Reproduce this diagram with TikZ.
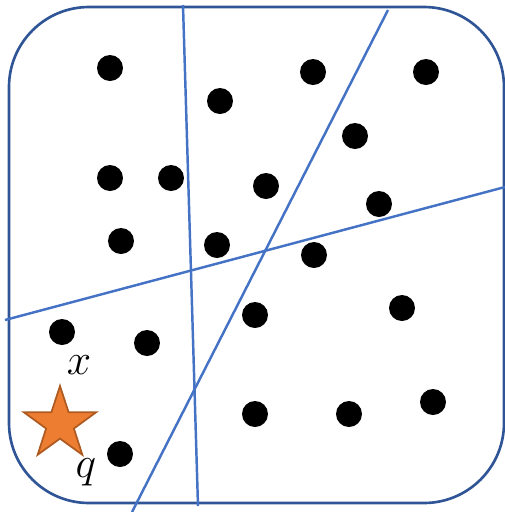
\documentclass[tikz,border=0pt]{standalone}
\usetikzlibrary{calc}
\definecolor{frameblue}{HTML}{2F5597}
\definecolor{lineblue}{HTML}{4472C4}
\definecolor{starfill}{HTML}{ED7D31}
\definecolor{starline}{HTML}{AE5A21}
\begin{document}
\begin{tikzpicture}[x=0.02cm,y=-0.02cm,
  pt/.style={circle,fill=black,inner sep=0pt,minimum size=0.52cm},
  sep/.style={draw=lineblue,line width=1.4pt},
  lbl/.style={inner sep=0pt,font=\fontsize{25}{30}\selectfont}]
\useasboundingbox (0,0) rectangle (505,512);
\draw[frameblue,line width=1.5pt,rounded corners=1.6cm] (9,7) rectangle (504,503);
% separating lines
\coordinate (a1) at (183,5);   \coordinate (a2) at (198,506);
\coordinate (b1) at (388,10);  \coordinate (b2) at (132,512);
\coordinate (c1) at (5,320);   \coordinate (c2) at (505,187);
\draw[sep] (a1) -- (a2);
\draw[sep] (b1) -- (b2);
\draw[sep] (c1) -- (c2);
% points
\foreach \n/\x/\y in {p1/110/68, p2/220/101, p3/313/72, p4/426/72, p5/355/136,
  p6/110/178, p7/171/178, p8/266/186, p9/379/204, p10/121/241, p11/217/245,
  p12/314/255, p13/62/332, p14/147/343, p15/255/315, p16/402/308,
  p17/255/414, p18/349/414, p19/433/402, p20/120/454}
  \node[pt] (\n) at (\x,\y) {};
% star
\coordinate (q) at (60,424);
\draw[fill=starfill,draw=starline,line width=1pt]
  ($(q)+(-90:38)$)
  \foreach \i in {0,...,4} { -- ($(q)+({-90+72*\i}:38)$) -- ($(q)+({-54+72*\i}:14.6)$) } -- cycle;
\node[lbl] (lx) at (79,365) {$x$};
\node[lbl] (lq) at (86,472) {$q$};
\end{tikzpicture}
\end{document}
